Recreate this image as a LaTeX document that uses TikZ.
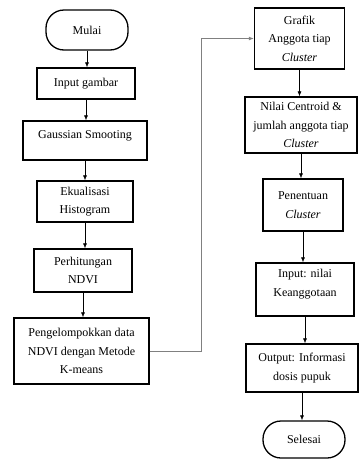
\documentclass[tikz,border=0pt]{standalone}
\usepackage{fontspec}
\setmainfont{Liberation Serif}
\usepackage{tikz}
\usetikzlibrary{arrows.meta}

\begin{document}
\begin{tikzpicture}[x=1pt,y=-1pt,
    box/.style={draw,line width=1.3pt,align=center,inner sep=0pt,
      font=\fontsize{12}{18.5}\selectfont},
    term/.style={box,rounded corners=18pt},
    flow/.style={-{Latex[length=5pt,width=4pt]},line width=0.6pt},
    link/.style={-{Latex[length=5pt,width=4pt]},line width=0.9pt,black!50}]
    \useasboundingbox (0,0) rectangle (360,461);
    \node[term,minimum width=82pt,minimum height=40pt] (mulai) at (87,30) {Mulai};
    \node[box,minimum width=98pt,minimum height=31pt] (input) at (86,83.5) {Input gambar};
    \node[box,minimum width=124pt,minimum height=39pt,text depth=11pt] (gauss) at (85,140.5) {Gaussian Smooting};
    \node[box,minimum width=96pt,minimum height=41pt] (ekual) at (85,201.5) {Ekualisasi\\Histogram};
    \node[box,minimum width=98pt,minimum height=43pt] (ndvi) at (83,270.5) {Perhitungan\\NDVI};
    \node[box,minimum width=135pt,minimum height=66pt] (kmeans) at (81.5,351) {Pengelompokkan data\\NDVI dengan Metode\\K-means};
    \node[box,minimum width=90pt,minimum height=61pt] (grafik) at (299.5,38.5) {Grafik\\Anggota tiap\\\textit{Cluster}};
    \node[box,minimum width=112pt,minimum height=56pt] (centroid) at (301,125) {Nilai Centroid \&\\jumlah anggota tiap\\\textit{Cluster}};
    \node[box,minimum width=80pt,minimum height=52pt] (tentu) at (303,205) {Penentuan\\\textit{Cluster}};
    \node[box,minimum width=98pt,minimum height=53pt,text depth=13pt] (nilai) at (305,289.5) {Input: nilai\\Keanggotaan};
    \node[box,minimum width=112pt,minimum height=48pt] (output) at (302,368) {Output: Informasi\\dosis pupuk};
    \node[term,minimum width=82pt,minimum height=37pt] (selesai) at (304,439.5) {Selesai};
    \draw[flow] (mulai.south) -- (mulai.south |- input.north);
    \draw[flow] (input.south) -- (input.south |- gauss.north);
    \draw[flow] (gauss.south) -- (gauss.south |- ekual.north);
    \draw[flow] (ekual.south) -- (ekual.south |- ndvi.north);
    \draw[flow] (ndvi.south) -- (ndvi.south |- kmeans.north);
    \draw[link] (kmeans.east) -- ++(52,0) |- (grafik.west);
    \draw[flow] (grafik.south) -- (grafik.south |- centroid.north);
    \draw[flow] (centroid.south) -- (centroid.south |- tentu.north);
    \draw[flow] (tentu.south) -- (tentu.south |- nilai.north);
    \draw[flow] (nilai.south) -- (nilai.south |- output.north);
    \draw[flow] (output.south) -- (output.south |- selesai.north);
\end{tikzpicture}
\end{document}
